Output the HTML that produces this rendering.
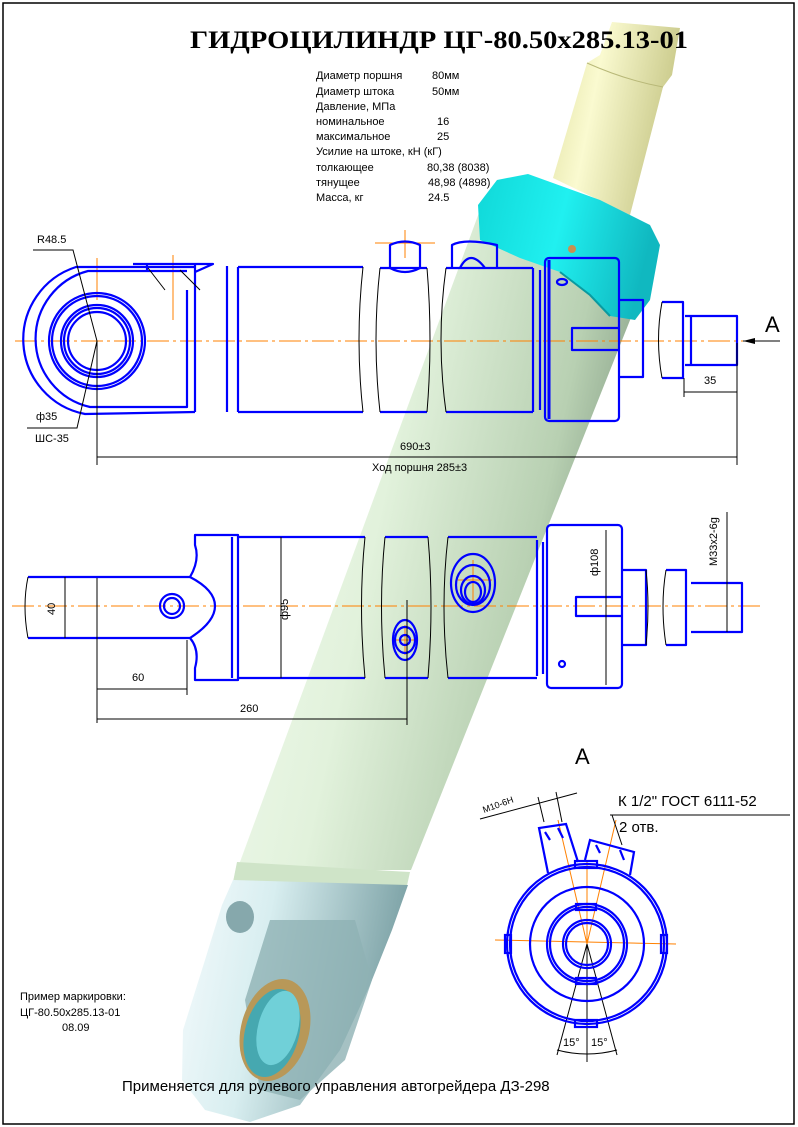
<!DOCTYPE html>
<html><head><meta charset="utf-8"><style>
html,body{margin:0;padding:0;background:#fff}
svg{display:block}
</style></head><body>
<svg width="798" height="1127" viewBox="0 0 798 1127" xmlns="http://www.w3.org/2000/svg" font-family="Liberation Sans, DejaVu Sans, sans-serif">
<defs>
<linearGradient id="gb" x1="0" y1="0" x2="1" y2="0.35">
<stop offset="0" stop-color="#f4fbf2"/><stop offset="0.45" stop-color="#e2f2dc"/><stop offset="0.8" stop-color="#b8d0b2"/><stop offset="1" stop-color="#7f9880"/></linearGradient>
<linearGradient id="gy" x1="0" y1="0" x2="1" y2="0.3">
<stop offset="0" stop-color="#e0e0a0"/><stop offset="0.4" stop-color="#fafad0"/><stop offset="1" stop-color="#c8c888"/></linearGradient>
<linearGradient id="gc" x1="0" y1="0" x2="1" y2="0.2">
<stop offset="0" stop-color="#10d8d8"/><stop offset="0.5" stop-color="#20f0f0"/><stop offset="1" stop-color="#10b8c0"/></linearGradient>
<linearGradient id="ge" x1="0" y1="0" x2="1" y2="0.2">
<stop offset="0" stop-color="#f4fafc"/><stop offset="0.4" stop-color="#d8eef0"/><stop offset="1" stop-color="#7aa0a4"/></linearGradient>
</defs>
<rect x="3" y="3" width="791" height="1121" fill="#fff" stroke="#000" stroke-width="1.5"/>

<!-- 3D rod -->
<path d="M553,178 L587,63 L600,55 L612,22 L680,28 L672,75 L663,87 L630,215 Z" fill="url(#gy)"/>
<path d="M587,63 Q625,80 663,87" fill="none" stroke="#b8b878" stroke-width="1"/>
<!-- barrel -->
<path d="M480,210 L650,270 L411,870 L237,870 Z" fill="url(#gb)"/>
<path d="M237,862 L410,872 L406,890 L233,882 Z" fill="#cfe4c8"/>
<!-- cyan nut -->
<path d="M478,205 L497,180 L528,174 L600,200 L650,225 L660,245 L650,300 L635,320 L610,316 L590,295 L560,272 L520,258 L480,240 Z" fill="url(#gc)"/>
<path d="M560,272 L590,295 L610,316" fill="none" stroke="#0a9aa0" stroke-width="2"/>
<ellipse cx="572" cy="249" rx="4" ry="4" fill="#c89050"/>
<!-- eye end -->
<path d="M233,880 L408,885 L392,930 L370,985 L340,1050 L300,1105 L250,1122 L205,1110 L182,1080 L183,1030 L205,960 L222,905 Z" fill="url(#ge)"/>
<path d="M270,920 L355,920 L372,980 L345,1060 L300,1100 L260,1090 L245,1000 Z" fill="#8eb2b4" opacity="0.8"/>
<ellipse cx="275" cy="1030" rx="34" ry="52" transform="rotate(15 275 1030)" fill="#b89858"/>
<ellipse cx="272" cy="1033" rx="27" ry="45" transform="rotate(15 272 1033)" fill="#46a8b0"/>
<ellipse cx="278" cy="1028" rx="20" ry="38" transform="rotate(15 278 1028)" fill="#70d0d8"/>
<ellipse cx="240" cy="917" rx="14" ry="16" fill="#86a8ac"/>

<!-- TITLE -->
<text x="190" y="48" style="font-family:'Liberation Serif',serif;font-weight:bold;font-size:25px" textLength="498" lengthAdjust="spacingAndGlyphs" fill="#000">ГИДРОЦИЛИНДР ЦГ-80.50х285.13-01</text>
<g font-size="11" fill="#000">
<text x="316" y="79">Диаметр поршня</text><text x="432" y="79">80мм</text>
<text x="316" y="95">Диаметр штока</text><text x="432" y="95">50мм</text>
<text x="316" y="110">Давление, МПа</text>
<text x="316" y="125">номинальное</text><text x="437" y="125">16</text>
<text x="316" y="140">максимальное</text><text x="437" y="140">25</text>
<text x="316" y="155">Усилие на штоке, кН (кГ)</text>
<text x="316" y="171">толкающее</text><text x="427" y="171">80,38 (8038)</text>
<text x="316" y="186">тянущее</text><text x="428" y="186">48,98 (4898)</text>
<text x="316" y="201">Масса, кг</text><text x="428" y="201">24.5</text>
</g>

<g fill="none" stroke="#ff8000" stroke-width="1" stroke-dasharray="22,4,3,4">
<line x1="15" y1="341" x2="760" y2="341"/>
<line x1="12" y1="606" x2="762" y2="606"/>
</g>
<g fill="none" stroke="#ff8000" stroke-width="1">
<line x1="97" y1="258" x2="97" y2="300"/>
<line x1="173" y1="255" x2="173" y2="320"/>
<line x1="375" y1="243" x2="435" y2="243"/><line x1="405" y1="230" x2="405" y2="258"/>
<line x1="495" y1="940" x2="676" y2="944"/><line x1="587" y1="860" x2="587" y2="1030"/>
<line x1="587" y1="944" x2="558" y2="820"/><line x1="587" y1="944" x2="616" y2="820"/>
<line x1="458" y1="580" x2="492" y2="580"/><line x1="473" y1="560" x2="473" y2="605"/>
<line x1="392" y1="640" x2="418" y2="640"/><line x1="405" y1="625" x2="405" y2="655"/>
</g>

<!-- TOP VIEW -->
<g fill="none" stroke="#0000ff" stroke-width="2.2" stroke-linejoin="round">
<path d="M195,267 L76,267 A76,76 0 0 0 85,414 L195,412"/>
<path d="M187,271 L88,271 A70,70 0 0 0 90,407 L187,407 L187,290"/>
<circle cx="97" cy="341" r="48"/><circle cx="97" cy="341" r="45"/>
<circle cx="97" cy="341" r="36"/><circle cx="97" cy="341" r="33"/><circle cx="97" cy="341" r="29"/>
<path d="M195,265 L195,412 M227,266 L227,412 M238,267 L238,412 M238,267 L363,267 M238,412 L363,412"/>
<path d="M133,264 L147,264 L147,272 M200,264 L213,264 L195,272 M133,264 L200,264"/>
<path d="M380,268 L427,268 M380,412 L427,412 M446,268 L533,268 M446,412 L533,412"/>
<path d="M390,268 L390,245 Q405,238 420,245 L420,268 M390,268 Q405,276 420,268"/>
<path d="M452,268 L452,245 Q465,238 497,245 L497,268 M460,268 Q470,248 485,268"/>
<path d="M533,268 L533,412 M540,270 L540,410"/>
<rect x="545" y="258" width="74" height="163" rx="4"/>
<line x1="549" y1="260" x2="549" y2="419" stroke-width="3"/>
<ellipse cx="562" cy="282" rx="5" ry="3"/>
<path d="M619,300 L643,300 L643,377 L619,377 M619,328 L572,328 L572,350 L619,350"/>
<path d="M662,302 L683,302 L683,378 L662,378"/>
<path d="M685,316 L737,316 L737,365 L685,365 M691,316 L691,365"/>
</g>
<g fill="none" stroke="#000" stroke-width="1">
<path d="M363,267 Q355,340 363,412 M380,268 Q372,340 380,412 M427,268 Q433,340 427,412 M446,268 Q436,340 446,412"/>
<path d="M662,302 Q655,340 662,378"/>
<path d="M33,250 L73,250 L97,341 L77,428 L27,428"/>
<line x1="97" y1="341" x2="97" y2="465"/>
<line x1="737" y1="343" x2="737" y2="465"/>
<line x1="97" y1="457" x2="737" y2="457"/>
<line x1="684" y1="378" x2="684" y2="397"/>
<line x1="684" y1="392" x2="737" y2="392"/>
<line x1="743" y1="341" x2="780" y2="341"/>
<path d="M148,268 L165,290 M180,270 L200,290"/>
</g>
<path d="M743,341 L755,338 L755,344 Z" fill="#000"/>
<g font-size="11" fill="#000" style="font-family:'Liberation Sans Narrow','Liberation Sans',sans-serif">
<text x="37" y="243">R48.5</text>
<text x="36" y="420">ф35</text>
<text x="35" y="442">ШС-35</text>
<text x="400" y="450">690±3</text>
<text x="372" y="471">Ход поршня 285±3</text>
<text x="704" y="384">35</text>
<text x="132" y="681">60</text>
<text x="240" y="712">260</text>
<text x="0" y="0" transform="translate(55,615) rotate(-90)">40</text>
<text x="0" y="0" transform="translate(288,620) rotate(-90)">ф95</text>
<text x="0" y="0" transform="translate(598,576) rotate(-90)">ф108</text>
<text x="0" y="0" transform="translate(717,566) rotate(-90)">M33x2-6g</text>
</g>
<text x="765" y="332" font-size="22" fill="#000">A</text>

<!-- MIDDLE VIEW -->
<g fill="none" stroke="#0000ff" stroke-width="2.2" stroke-linejoin="round">
<path d="M28,577 L190,577 Q200,560 195,545 L195,535 L238,535 L238,680 L195,680 L195,668 Q200,650 190,638 L28,638"/>
<path d="M190,577 Q215,590 215,606 Q215,622 190,638"/>
<circle cx="172" cy="606" r="12"/><circle cx="172" cy="606" r="8"/>
<path d="M232,537 L232,678"/>
<path d="M238,537 L365,537 M238,678 L365,678 M385,537 L428,537 M385,678 L428,678 M448,537 L537,537 M448,678 L537,678"/>
<path d="M537,540 L537,676 M543,542 L543,674"/>
<rect x="547" y="525" width="75" height="163" rx="4"/>
<path d="M622,570 L646,570 L646,645 L622,645 M622,597 L576,597 L576,616 L622,616"/>
<path d="M666,570 L686,570 L686,645 L666,645"/>
<path d="M691,583 L742,583 L742,632 L691,632"/>
<ellipse cx="405" cy="640" rx="12" ry="20"/><ellipse cx="405" cy="640" rx="10" ry="13"/><circle cx="405" cy="640" r="5"/>
<ellipse cx="473" cy="583" rx="22" ry="29"/><ellipse cx="473" cy="585" rx="17" ry="20"/><ellipse cx="473" cy="590" rx="12" ry="14"/><ellipse cx="473" cy="592" rx="8" ry="10"/>
<circle cx="562" cy="664" r="3"/>
</g>
<g fill="none" stroke="#000" stroke-width="1">
<path d="M28,577 Q22,606 28,638"/>
<path d="M365,537 Q358,606 365,678 M385,537 Q378,606 385,678 M428,537 Q434,606 428,678 M448,537 Q440,606 448,678 M646,570 Q650,606 646,645 M666,570 Q660,606 666,645"/>
<line x1="65" y1="577" x2="65" y2="638"/>
<line x1="281" y1="537" x2="281" y2="678"/>
<line x1="606" y1="530" x2="606" y2="685"/>
<line x1="727" y1="512" x2="727" y2="632"/>
<line x1="97" y1="578" x2="97" y2="723"/>
<line x1="187" y1="640" x2="187" y2="695"/>
<line x1="407" y1="600" x2="407" y2="725"/>
<line x1="97" y1="689" x2="187" y2="689"/>
<line x1="97" y1="719" x2="407" y2="719"/>
</g>

<!-- VIEW A -->
<text x="575" y="764" font-size="22" fill="#000">A</text>
<text x="618" y="806" font-size="15" fill="#000">К 1/2" ГОСТ 6111-52</text>
<text x="619" y="832" font-size="15" fill="#000">2 отв.</text>
<text x="0" y="0" transform="translate(484,813) rotate(-20)" font-size="9" fill="#000">M10-6H</text>
<g fill="none" stroke="#000" stroke-width="1">
<line x1="610" y1="815" x2="790" y2="815"/>
<line x1="480" y1="819" x2="577" y2="793"/>
<line x1="538" y1="797" x2="544" y2="822"/><line x1="556" y1="792" x2="562" y2="822"/>
<line x1="612" y1="815" x2="622" y2="845"/>
<line x1="587" y1="944" x2="557" y2="1055"/><line x1="587" y1="944" x2="617" y2="1055"/>
<line x1="587" y1="944" x2="587" y2="1062"/>
<path d="M557,1050 Q587,1058 617,1050"/>
</g>
<g fill="none" stroke="#0000ff" stroke-width="2.2">
<circle cx="587" cy="944" r="80"/><circle cx="587" cy="944" r="77"/>
<circle cx="587" cy="944" r="57"/>
<circle cx="587" cy="944" r="40"/><circle cx="587" cy="944" r="37"/>
<circle cx="587" cy="944" r="24"/><circle cx="587" cy="944" r="21"/>
<rect x="575" y="861" width="22" height="7"/><rect x="575" y="1020" width="22" height="7"/>
<rect x="505" y="935" width="6" height="18"/><rect x="661" y="935" width="6" height="18"/>
<rect x="576" y="904" width="20" height="6"/><rect x="576" y="978" width="20" height="6"/>
<path d="M548,873 L539,828 L566,824 L578,862"/>
<path d="M585,860 L590,840 L634,852 L630,875"/>
<path d="M545,832 L550,840 M558,828 L563,838 M596,845 L600,853 M620,850 L624,860"/>
</g>
<text x="563" y="1046" font-size="11" fill="#000">15°</text>
<text x="591" y="1046" font-size="11" fill="#000">15°</text>

<g font-size="11" fill="#000">
<text x="20" y="1000">Пример маркировки:</text>
<text x="20" y="1016">ЦГ-80.50х285.13-01</text>
<text x="62" y="1031">08.09</text>
</g>
<text x="122" y="1091" font-size="15" fill="#000">Применяется для рулевого управления автогрейдера ДЗ-298</text>
</svg>
</body></html>
